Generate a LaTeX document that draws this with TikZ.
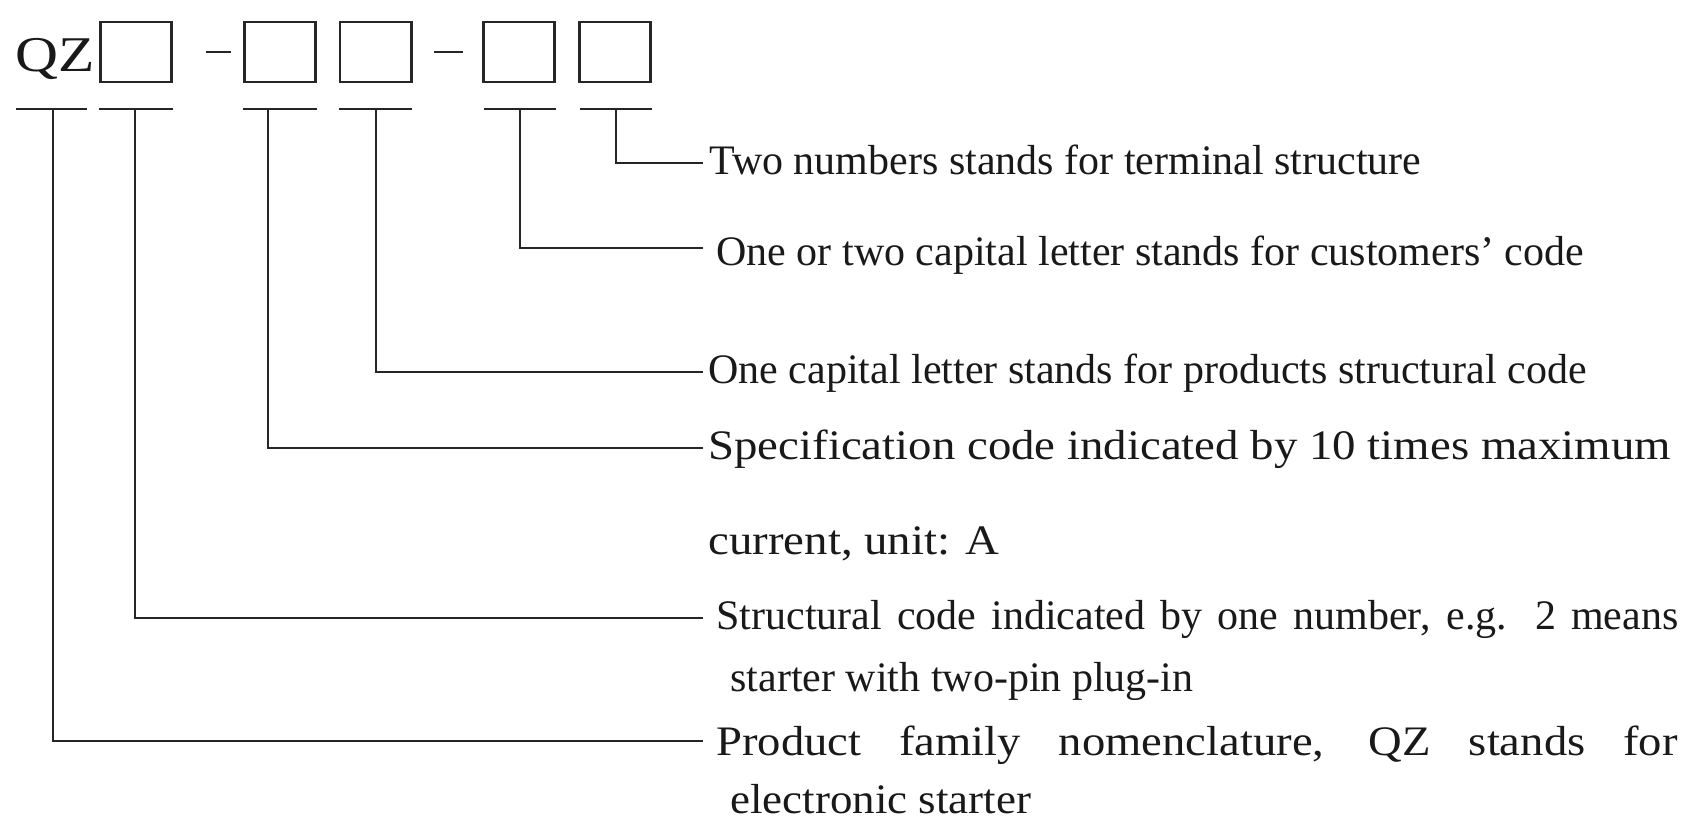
\documentclass[tikz,border=0pt]{standalone}
\usepackage{fontspec}
\setmainfont{Liberation Serif}
\usetikzlibrary{positioning}

\newcommand{\widetxt}[2][1.115]{\scalebox{#1}[1]{#2}}

\begin{document}
\begin{tikzpicture}[x=0.5pt,y=-0.5pt,
  lead/.style={draw=black!85,line width=1.3pt},
  slot/.style={draw=black!85,line width=1.3pt,minimum width=35.7pt,minimum height=30pt,inner sep=0pt},
  lbl/.style={anchor=west,inner ysep=0pt,inner xsep=#1,text height=15.8pt,text depth=4.2pt,
              font=\fontsize{21}{25}\selectfont,text=black!90},
  lbl/.default=4pt,
  sub/.style={anchor=base west,inner sep=0pt,font=\fontsize{21}{25}\selectfont,text=black!90}]
\useasboundingbox (0,0) rectangle (1681,822);

% the type code
\node[anchor=base west,inner sep=0pt,font=\fontsize{25}{28}\selectfont,text=black!90] (qz) at (15,72)
  {\scalebox{1.19}[1]{QZ}};
\node[slot] (b1) at (136,52)   {};
\node[slot] (b2) at (280,52)   {};
\node[slot] (b3) at (375.5,52) {};
\node[slot] (b4) at (519,52)   {};
\node[slot] (b5) at (615,52)   {};
\draw[lead] (206,52) -- (231,52);
\draw[lead] (434,52) -- (463,52);

% underlines
\foreach \a/\b in {16/87,99/173,243/317,339/412,484/556,580/652}
  \draw[lead] (\a,109) -- (\b,109);

\coordinate (u1) at (53,109);
\coordinate (u2) at (135,109);
\coordinate (u3) at (268,109);
\coordinate (u4) at (376,109);
\coordinate (u5) at (520,109);
\coordinate (u6) at (616,109);

% meanings
\node[lbl=3pt]   (t6) at (703,163) {Two numbers stands for terminal structure};
\node[lbl=6.5pt,text height=22pt] (t5) at (703,248) {One or two capital letter stands for customers' code};
\node[lbl=2.5pt] (t4) at (703,372) {One capital letter stands for products structural code};
\node[lbl=2.5pt] (t3) at (703,448) {\widetxt{Specification code indicated by 10 times maximum}};
\node[sub]       (t3b) at (708,555) {\widetxt{current, unit: A}};
\node[lbl=6.5pt] (t2) at (703,618) {\makebox[481pt][s]{Structural code indicated by one number, e.g. 2 means}};
\node[sub]       (t2b) at (730,692) {starter with two-pin plug-in};
\node[lbl=6.5pt,text height=18.8pt] (t1) at (703,741) {\widetxt[1.11]{\makebox[433pt][s]{Product family nomenclature, QZ stands for}}};
\node[sub]       (t1b) at (730,813) {\widetxt[1.07]{electronic starter}};

\draw[lead] (u6) |- (t6.west);
\draw[lead] (u5) |- (t5.west);
\draw[lead] (u4) |- (t4.west);
\draw[lead] (u3) |- (t3.west);
\draw[lead] (u2) |- (t2.west);
\draw[lead] (u1) |- (t1.west);

\end{tikzpicture}
\end{document}
